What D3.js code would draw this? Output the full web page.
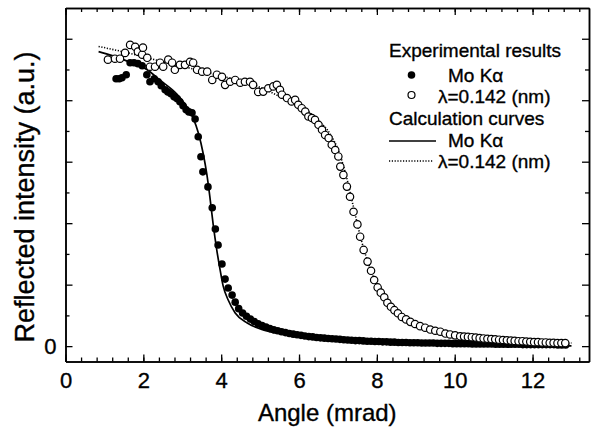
<!DOCTYPE html>
<html>
<head>
<meta charset="utf-8">
<script src="https://cdn.jsdelivr.net/npm/d3@7/dist/d3.min.js"></script>
<style>
  body { margin: 0; background: #fff; }
  svg { display: block; font-family: "Liberation Sans", Arial, sans-serif; }
  text { stroke: #000; stroke-width: 0.35px; }
</style>
</head>
<body>
<script>
// measured points, [angle (mrad), reflected intensity (a.u.)]
var moExp = [
  [1.30,.870],[1.38,.870],[1.45,.873],[1.56,.883],[1.66,.922],[1.76,.922],[1.86,.919],[1.97,.912],
  [2.09,.883],[2.17,.860],[2.28,.870],[2.38,.860],[2.46,.847],[2.56,.834],[2.63,.827],[2.71,.821],
  [2.79,.811],[2.87,.805],[2.94,.795],[3.02,.782],[3.10,.769],[3.17,.762],[3.25,.759],[3.33,.739],
  [3.41,.681],[3.48,.616],[3.53,.567],[3.66,.518],[3.77,.450],[3.85,.381],[3.92,.329],[4.02,.267],
  [4.10,.218],[4.18,.189],[4.28,.166],[4.36,.143],
  [4.45,.122],[4.55,.108],[4.65,.097],[4.75,.088],[4.85,.080],[4.95,.073],[5.05,.067],[5.15,.062],
  [5.25,.057],[5.35,.053],[5.45,.050],[5.55,.047],[5.65,.044],[5.75,.041],[5.85,.039],[5.95,.037],
  [6.05,.035],[6.15,.033],[6.25,.031],[6.35,.030],[6.45,.028],[6.55,.027],[6.65,.026],[6.75,.025],
  [6.85,.024],[6.95,.023],[7.05,.022],[7.15,.021],[7.25,.020],[7.35,.019],[7.45,.018],[7.55,.018],
  [7.65,.017],[7.75,.016],[7.85,.016],[7.95,.015],[8.05,.015],[8.15,.014],[8.25,.014],[8.35,.013],
  [8.45,.013],[8.55,.012],[8.65,.012],[8.75,.012],[8.85,.011],[8.95,.011],[9.05,.011],[9.15,.010],
  [9.25,.010],[9.35,.010],[9.45,.010],[9.55,.009],[9.65,.009],[9.75,.009],[9.85,.009],[9.95,.008],
  [10.05,.008],[10.15,.008],[10.25,.008],[10.35,.008],[10.45,.007],[10.55,.007],[10.65,.007],[10.75,.007],
  [10.85,.007],[10.95,.007],[11.05,.006],[11.15,.006],[11.25,.006],[11.35,.006],[11.45,.006],[11.55,.006],
  [11.65,.006],[11.75,.005],[11.85,.005],[11.95,.005],[12.05,.005],[12.15,.005],[12.25,.005],[12.35,.005],
  [12.45,.005],[12.55,.005],[12.65,.004],[12.75,.004],[12.85,.004]
];

var lamExp = [
  [1.09,.932],[1.27,.935],[1.40,.935],[1.53,.954],[1.66,.980],[1.79,.974],[1.86,.958],[1.97,.948],
  [1.99,.971],[2.10,.938],[2.17,.909],[2.30,.909],[2.43,.922],[2.51,.909],[2.64,.932],[2.74,.922],
  [2.81,.899],[2.94,.915],[3.07,.915],[3.20,.925],[3.28,.922],[3.38,.899],[3.51,.893],[3.64,.893],
  [3.77,.866],[3.89,.883],[4.02,.876],[4.10,.850],[4.23,.860],[4.36,.866],[4.49,.857],[4.61,.860],
  [4.74,.860],[4.82,.850],[4.95,.827],[5.08,.828],[5.21,.839],[5.34,.845],[5.43,.850],[5.51,.834],
  [5.56,.818],[5.69,.807],[5.81,.796],[5.90,.801],[5.98,.785],[6.07,.774],[6.16,.763],[6.24,.747],
  [6.33,.742],[6.41,.736],[6.50,.720],[6.59,.704],[6.67,.687],[6.76,.677],[6.84,.655],[6.93,.638],
  [7.01,.617],[7.06,.584],[7.14,.557],[7.23,.519],[7.31,.486],[7.40,.437],[7.50,.396],[7.57,.356],
  [7.66,.313],[7.76,.275],[7.85,.245],[7.93,.215],[8.02,.191],[8.10,.174],[8.19,.159],[8.27,.141],
  [8.36,.128],[8.45,.117],[8.54,.107],[8.64,.095],[8.75,.087],[8.86,.079],[8.98,.072],[9.11,.065],
  [9.24,.060],[9.37,.054],[9.50,.050],[9.63,.047],[9.76,.041],[9.88,.038],[10.01,.035],[10.14,.032],
  [10.24,.031],[10.34,.030],[10.44,.029],[10.54,.028],[10.64,.026],[10.74,.025],[10.84,.024],[10.94,.023],
  [11.04,.022],[11.14,.021],[11.24,.020],[11.34,.019],[11.44,.018],[11.54,.017],[11.64,.016],[11.74,.016],
  [11.84,.015],[11.94,.014],[12.04,.013],[12.14,.013],[12.24,.012],[12.34,.012],[12.44,.011],[12.54,.011],
  [12.64,.010],[12.74,.010],[12.84,.010]
];

// calculation curves
var moCalc = [
  [0.85,.958],[1.20,.945],[1.57,.928],[2.09,.900],[2.43,.865],[2.86,.820],[3.12,.778],[3.28,.742],
  [3.41,.695],[3.54,.625],[3.63,.560],[3.71,.485],[3.79,.400],[3.89,.310],[3.97,.250],[4.05,.196],
  [4.18,.150],[4.36,.108],[4.67,.075],[5.08,.053],[5.51,.041],[6.00,.032],[7.00,.019],[8.00,.012],
  [9.00,.008],[10.0,.005],[11.0,.003],[12.0,.002],[13.0,.001]
];
var lamCalc = [
  [0.85,.975],[1.57,.955],[2.50,.925],[3.50,.895],[4.50,.862],[5.00,.842],[5.50,.812],[6.00,.782],
  [6.50,.735],[6.80,.690],[7.00,.640],[7.20,.560],[7.40,.452],[7.60,.345],[7.80,.262],[8.00,.198],
  [8.30,.138],[8.60,.100],[9.00,.070],[9.50,.050],[10.0,.037],[11.0,.022],[12.0,.014],[13.0,.010]
];

var xMajor = [0, 2, 4, 6, 8, 10, 12];
var xMinor = d3.range(0, 13.45, 0.4);
var yMajor = [0, 0.2, 0.4, 0.6, 0.8, 1.0];
var yMinor = [0.1, 0.3, 0.5, 0.7, 0.9];

var W = 591, H = 433;
var plotLeft = 65.5, plotRight = 589, plotTop = 8, plotBottom = 361.5;

var svg = d3.select("body").append("svg")
    .attr("width", W)
    .attr("height", H);

var x = d3.scaleLinear().domain([0, 13.45]).range([plotLeft, plotRight]);
var y = d3.scaleLinear().domain([-0.05, 1.1]).range([plotBottom, plotTop]);

// axes: ticks point inward on all four sides
function styleAxis(g) {
  g.selectAll("path").attr("stroke", "#000").attr("stroke-width", 1.5);
  g.selectAll("line").attr("stroke", "#000").attr("stroke-width", 1.3);
  g.selectAll("text").attr("fill", "#000").attr("font-size", 22);
}

svg.append("g").attr("transform", "translate(0," + plotBottom + ")")
  .call(d3.axisBottom(x).tickValues(xMinor).tickSize(-4).tickFormat("").tickSizeOuter(0)).call(styleAxis);
svg.append("g").attr("transform", "translate(0," + plotBottom + ")")
  .call(d3.axisBottom(x).tickValues(xMajor).tickSize(-7).tickPadding(11).tickFormat(d3.format("d")).tickSizeOuter(0))
  .call(styleAxis);
svg.append("g").attr("transform", "translate(0," + plotTop + ")")
  .call(d3.axisTop(x).tickValues(xMinor).tickSize(-4).tickFormat("").tickSizeOuter(0)).call(styleAxis);
svg.append("g").attr("transform", "translate(0," + plotTop + ")")
  .call(d3.axisTop(x).tickValues(xMajor).tickSize(-7).tickFormat("").tickSizeOuter(0)).call(styleAxis);

svg.append("g").attr("transform", "translate(" + plotLeft + ",0)")
  .call(d3.axisLeft(y).tickValues(yMinor).tickSize(-4).tickFormat("").tickSizeOuter(0)).call(styleAxis);
svg.append("g").attr("transform", "translate(" + plotLeft + ",0)")
  .call(d3.axisLeft(y).tickValues(yMajor).tickSize(-7).tickPadding(9)
    .tickFormat(function(d) { return d === 0 ? "0" : ""; }).tickSizeOuter(0))
  .call(styleAxis);
svg.append("g").attr("transform", "translate(" + plotRight + ",0)")
  .call(d3.axisRight(y).tickValues(yMinor).tickSize(-4).tickFormat("").tickSizeOuter(0)).call(styleAxis);
svg.append("g").attr("transform", "translate(" + plotRight + ",0)")
  .call(d3.axisRight(y).tickValues(yMajor).tickSize(-7).tickFormat("").tickSizeOuter(0)).call(styleAxis);

// axis titles
svg.append("text")
  .attr("x", (plotLeft + plotRight) / 2)
  .attr("y", 421)
  .attr("text-anchor", "middle")
  .attr("font-size", 24)
  .text("Angle (mrad)");

svg.append("text")
  .attr("transform", "translate(34," + 197 + ") rotate(-90)")
  .attr("text-anchor", "middle")
  .attr("font-size", 27)
  .text("Reflected intensity (a.u.)");

// calculation curves
var line = d3.line()
  .x(function(d) { return x(d[0]); })
  .y(function(d) { return y(d[1]); })
  .curve(d3.curveMonotoneX);

svg.append("path").datum(moCalc)
  .attr("d", line).attr("fill", "none")
  .attr("stroke", "#000").attr("stroke-width", 1.7);

svg.append("path").datum(lamCalc)
  .attr("d", line).attr("fill", "none")
  .attr("stroke", "#000").attr("stroke-width", 1.6)
  .attr("stroke-dasharray", "1.2,1.6");

// experimental points
svg.append("g").selectAll("circle")
  .data(moExp)
  .enter().append("circle")
    .attr("cx", function(d) { return x(d[0]); })
    .attr("cy", function(d) { return y(d[1]); })
    .attr("r", 3.8)
    .attr("fill", "#000");

svg.append("g").selectAll("circle")
  .data(lamExp)
  .enter().append("circle")
    .attr("cx", function(d) { return x(d[0]); })
    .attr("cy", function(d) { return y(d[1]); })
    .attr("r", 3.7)
    .attr("fill", "#fff")
    .attr("stroke", "#000")
    .attr("stroke-width", 1.2);

// legend
var lg = svg.append("g").attr("font-size", 19);
lg.append("text").attr("x", 389).attr("y", 57).text("Experimental results");
lg.append("circle").attr("cx", 411.5).attr("cy", 75).attr("r", 3.8).attr("fill", "#000");
lg.append("text").attr("x", 448).attr("y", 82).text("Mo K\u03b1");
lg.append("circle").attr("cx", 411.5).attr("cy", 95).attr("r", 3.5)
  .attr("fill", "#fff").attr("stroke", "#000").attr("stroke-width", 1.2);
lg.append("text").attr("x", 438).attr("y", 103).text("\u03bb=0.142 (nm)");
lg.append("text").attr("x", 389).attr("y", 125).text("Calculation curves");
lg.append("line").attr("x1", 389).attr("x2", 436).attr("y1", 141).attr("y2", 141)
  .attr("stroke", "#000").attr("stroke-width", 1.5);
lg.append("text").attr("x", 448).attr("y", 147).text("Mo K\u03b1");
lg.append("line").attr("x1", 389).attr("x2", 433).attr("y1", 161).attr("y2", 161)
  .attr("stroke", "#000").attr("stroke-width", 1.5).attr("stroke-dasharray", "1.2,1.6");
lg.append("text").attr("x", 438).attr("y", 168).text("\u03bb=0.142 (nm)");
</script>
</body>
</html>
